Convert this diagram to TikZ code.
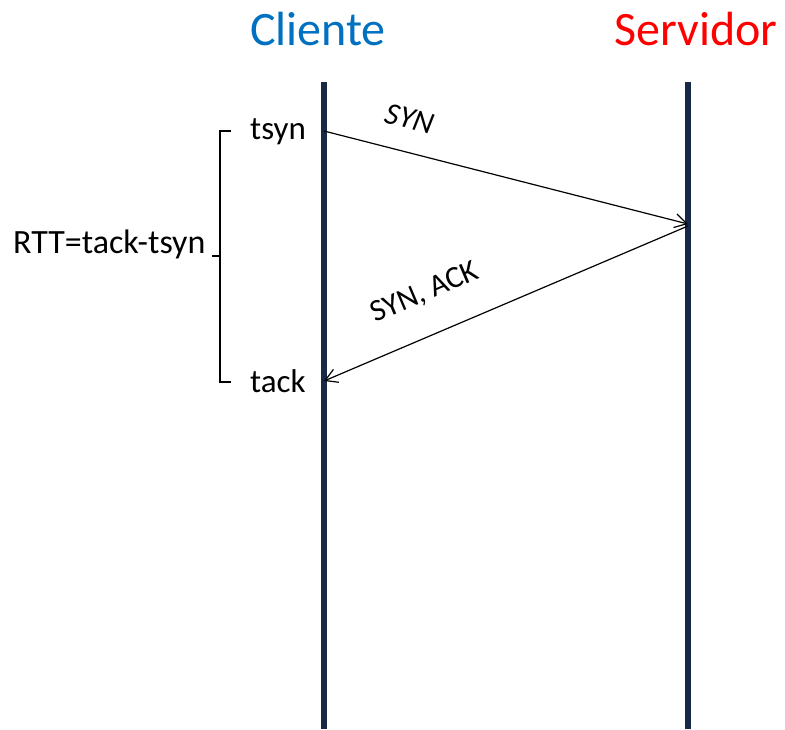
\documentclass[tikz,border=0pt]{standalone}
\usepackage{fontspec}
\setmainfont{Carlito}
\usetikzlibrary{arrows.meta}
\definecolor{lifeline}{RGB}{22,42,72}
\definecolor{clientblue}{RGB}{0,112,192}
\definecolor{serverred}{RGB}{255,0,0}
\begin{document}
\begin{tikzpicture}[x=1pt,y=-1pt,
  lifelinestyle/.style={draw=lifeline,line width=5.5pt},
  msgstyle/.style={draw=black,line width=1.2pt,-{Straight Barb[length=12pt,width=14pt,line width=1.2pt]}},
  headerstyle/.style={font=\fontsize{48}{56}\selectfont,inner sep=0pt,anchor=base},
  timestyle/.style={font=\fontsize{33}{39}\selectfont,inner sep=0pt,anchor=base west},
  msglabel/.style={font=\fontsize{31}{36}\selectfont,inner sep=0pt},
  bracestyle/.style={draw=black,line width=1.2pt}
]
\useasboundingbox (0,0) rectangle (785,729);

% headers
\node[headerstyle,text=clientblue] (cliente) at (318,45) {Cliente};
\node[headerstyle,text=serverred] (servidor) at (696,45) {Servidor};

% lifelines
\coordinate (cTop) at (324,82);
\coordinate (cBot) at (324,729);
\coordinate (sTop) at (688,82);
\coordinate (sBot) at (688,729);
\draw[lifelinestyle] (cTop) -- (cBot);
\draw[lifelinestyle] (sTop) -- (sBot);

% message points
\coordinate (synOut) at (324,131);
\coordinate (synIn) at (688,224);
\coordinate (ackOut) at (688,226);
\coordinate (ackIn) at (324,381);

\draw[msgstyle] (synOut) -- (synIn);
\draw[msgstyle] (ackOut) -- (ackIn);

\node[msglabel,rotate=-14.5,font=\fontsize{31}{36}\selectfont\itshape] (synlbl) at (410,119) {SYN};
\node[msglabel,rotate=23] (acklbl) at (425,293) {SYN, ACK};

% time labels
\node[timestyle] (tsyn) at (250,139) {tsyn};
\node[timestyle] (tack) at (250,392) {tack};

% RTT bracket
\coordinate (bTopR) at (231,131);
\coordinate (bTopL) at (220,131);
\coordinate (bBotL) at (220,382);
\coordinate (bBotR) at (231,382);
\coordinate (bMid) at (220,256);
\coordinate (bTip) at (212,256);
\draw[bracestyle] (bTopR) -- (bTopL) -- (bBotL) -- (bBotR);
\draw[bracestyle] (bMid) -- (bTip);

\node[timestyle,font=\fontsize{34}{40}\selectfont] (rtt) at (13,253) {RTT=tack-tsyn};
\end{tikzpicture}
\end{document}
